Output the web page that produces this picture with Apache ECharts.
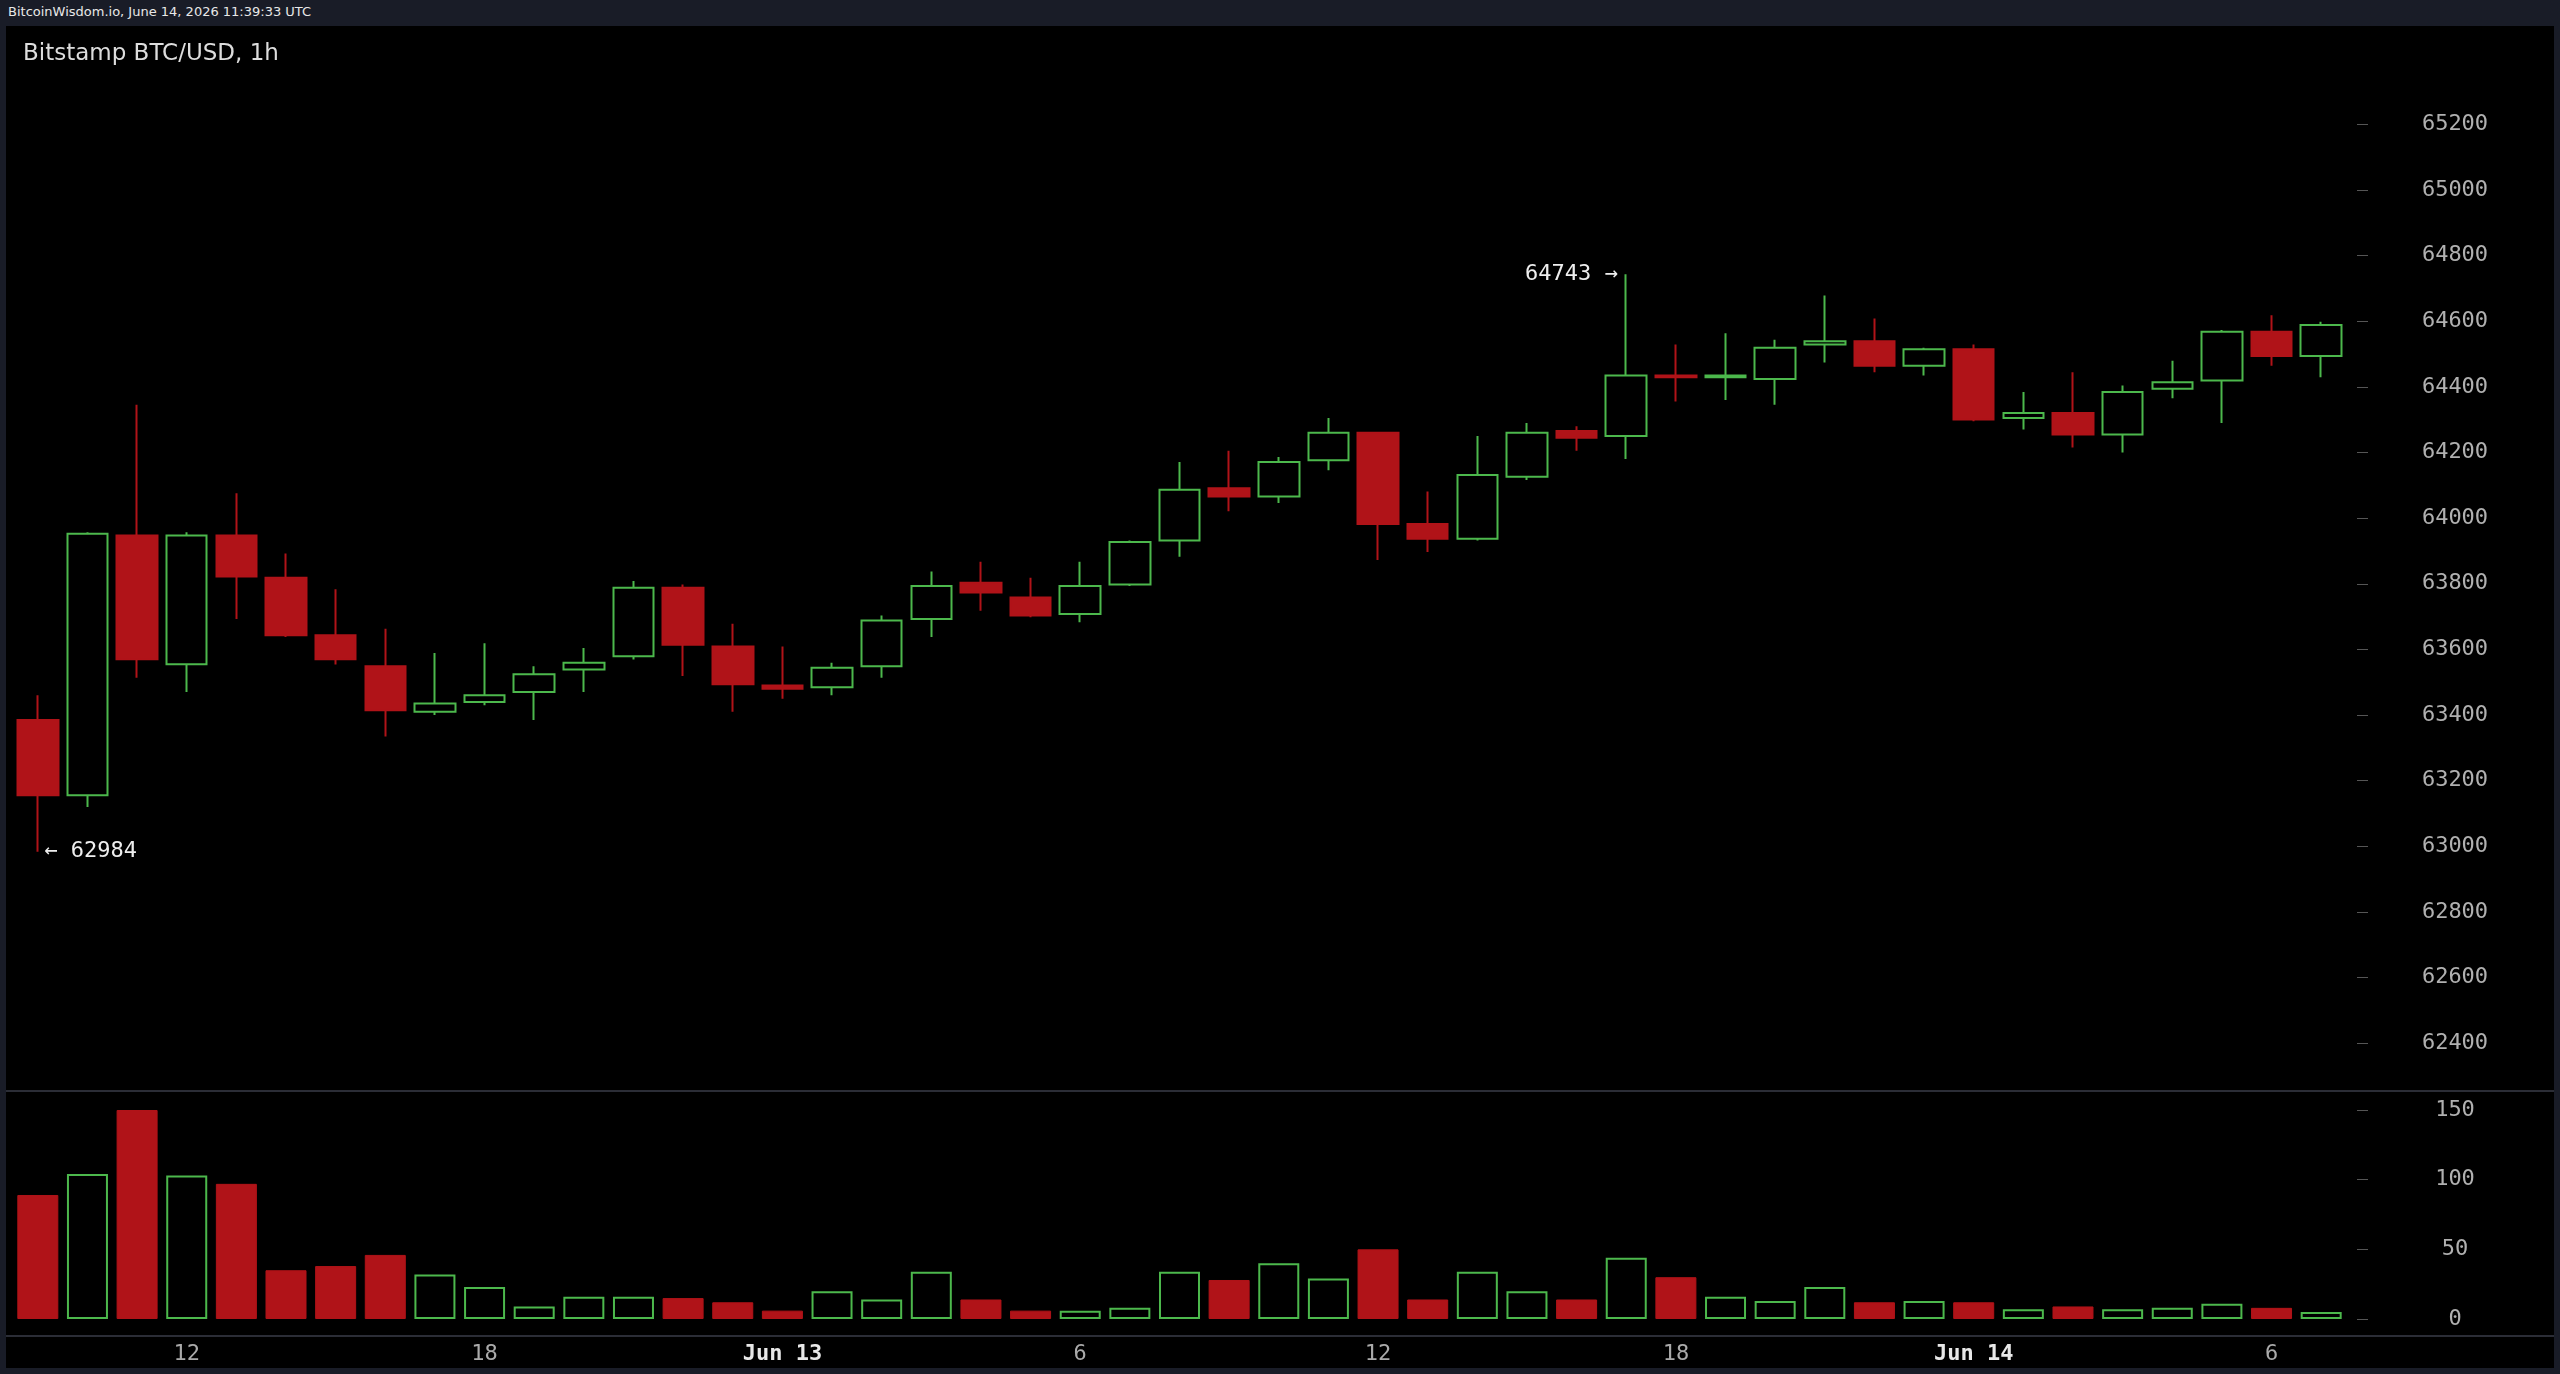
<!DOCTYPE html>
<html><head><meta charset="utf-8">
<script src="https://cdn.jsdelivr.net/npm/echarts@6/dist/echarts.min.js"></script>
<style>
html,body{margin:0;padding:0;width:2560px;height:1374px;background:#191c27;overflow:hidden;font-family:"DejaVu Sans Mono",monospace;}
#hdr{position:absolute;left:8px;top:4px;color:#e8e8e8;font:13px "DejaVu Sans",sans-serif;}
#c{position:absolute;left:6px;top:26px;width:2548px;height:1342px;background:#000;}
</style></head><body>
<div id="hdr">BitcoinWisdom.io, June 14, 2026 11:39:33 UTC</div>
<div id="c"></div>
<script>
const hours = [9,10,11,12,13,14,15,16,17,18,19,20,21,22,23,0,1,2,3,4,5,6,7,8,9,10,11,12,13,14,15,16,17,18,19,20,21,22,23,0,1,2,3,4,5,6,7];
const opens  = [63385,63156,63947,63555,63947,63818,63643,63549,63410,63440,63470,63539,63579,63788,63609,63490,63485,63549,63693,63803,63758,63708,63798,63932,64091,64066,64176,64260,63982,63937,64126,64265,64250,64434,64429,64424,64529,64539,64464,64514,64305,64320,64255,64394,64419,64568,64494];
const closes = [63156,63952,63570,63947,63822,63643,63570,63415,63435,63460,63524,63559,63788,63614,63494,63480,63544,63688,63793,63773,63703,63793,63927,64086,64066,64171,64260,63982,63937,64131,64260,64245,64434,64429,64434,64519,64539,64464,64514,64300,64320,64255,64384,64414,64568,64494,64588];
const highs  = [63460,63957,64345,63957,64076,63892,63783,63663,63589,63619,63549,63604,63808,63798,63678,63609,63559,63703,63837,63867,63818,63867,63932,64171,64205,64186,64305,64260,64081,64250,64290,64280,64743,64529,64563,64543,64678,64608,64519,64529,64384,64444,64404,64479,64573,64618,64598];
const lows   = [62984,63120,63514,63470,63693,63638,63554,63335,63400,63430,63385,63470,63569,63519,63410,63450,63460,63514,63638,63718,63698,63683,63793,63882,64021,64046,64146,63872,63897,63932,64116,64205,64180,64355,64360,64345,64474,64444,64434,64295,64270,64215,64200,64365,64290,64464,64429];
const volumes= [89,104,150,103,97,35,38,46,32,23,9,16,16,15,12,6,20,14,34,14,6,6,8,34,28,40,29,50,14,34,20,14,44,30,16,13,23,12,13,12,7,9,7,8,11,8,5];
const priceTicks = [62400,62600,62800,63000,63200,63400,63600,63800,64000,64200,64400,64600,64800,65000,65200];
const volTicks = [0,50,100,150];

const RED='#b01318', GREEN='#4cb84c';
const cats = hours.map((h,i)=>{
  if(h===0){ return i<20 ? 'Jun 13' : 'Jun 14'; }
  return String(h);
});
const candleData = opens.map((o,i)=>[o,closes[i],lows[i],highs[i]]);
const volData = volumes.map((v,i)=>({value:v,itemStyle: closes[i]>opens[i]
  ? {color:'#000',borderColor:GREEN,borderWidth:2}
  : {color:RED,borderColor:RED,borderWidth:1}}));

const chart = echarts.init(document.getElementById('c'));
const xLabel = {
  interval:(i)=>hours[i]%6===0,
  margin:24,
  formatter:(v)=> v.startsWith('Jun') ? '{b|'+v+'}' : '{n|'+v+'}',
  rich:{b:{color:'#e8e8e8',fontWeight:'bold',fontSize:22,fontFamily:'DejaVu Sans Mono'},
        n:{color:'#aaaaaa',fontSize:22,fontFamily:'DejaVu Sans Mono'}}
};
const yCommon = {
  position:'right', offset:11, splitLine:{show:false}, axisLine:{show:false},
  axisTick:{show:true,length:11,lineStyle:{color:'#555'}},
  axisLabel:{color:'#b0b0b0',fontSize:22,fontFamily:'DejaVu Sans Mono',margin:98,align:'center'}
};
chart.setOption({
  backgroundColor:'#000',
  animation:false,
  title:{text:'Bitstamp BTC/USD, 1h',left:12,top:12,textStyle:{color:'#dddddd',fontSize:23,fontWeight:'normal',fontFamily:'DejaVu Sans'}},
  grid:[{left:7,right:208,top:32.5,bottom:259},{left:7,right:208,top:1084,bottom:49}],
  xAxis:[
    {type:'category',data:cats,gridIndex:0,axisLine:{show:false},axisTick:{show:false},axisLabel:{show:false}},
    {type:'category',data:cats,gridIndex:1,axisLine:{show:false},axisTick:{show:false},axisLabel:xLabel}
  ],
  yAxis:[
    Object.assign({},yCommon,{gridIndex:0,min:62200,max:65400,interval:200,
      axisLabel:Object.assign({},yCommon.axisLabel,{formatter:(v)=> (v>=priceTicks[0]&&v<=priceTicks[priceTicks.length-1])?String(v):''}),
      axisTick:Object.assign({},yCommon.axisTick,{customValues:priceTicks})}),
    Object.assign({},yCommon,{gridIndex:1,min:volTicks[0],max:volTicks[volTicks.length-1],interval:50})
  ],
  graphic:[
    {type:'line',shape:{x1:0,y1:1065,x2:2548,y2:1065},style:{stroke:'#3a3d48',lineWidth:1.5},silent:true},
    {type:'line',shape:{x1:0,y1:1310,x2:2548,y2:1310},style:{stroke:'#3a3d48',lineWidth:1.5},silent:true}
  ],
  series:[
    {type:'candlestick',xAxisIndex:0,yAxisIndex:0,data:candleData,barWidth:41,
     itemStyle:{color:'#000',color0:RED,borderColor:GREEN,borderColor0:RED,borderWidth:2},
     markPoint:{symbol:'circle',symbolSize:1,itemStyle:{color:'rgba(0,0,0,0)'},
       data:[
        {coord:[32,highs[32]],value:highs[32],label:{show:true,position:'left',distance:8,formatter:'{c} →',color:'#eeeeee',fontSize:22,fontFamily:'DejaVu Sans Mono'}},
        {coord:[0,lows[0]],value:lows[0],label:{show:true,position:'right',distance:6,formatter:'← {c}',color:'#eeeeee',fontSize:22,fontFamily:'DejaVu Sans Mono'}}
       ]}},
    {type:'bar',xAxisIndex:1,yAxisIndex:1,data:volData,barWidth:41}
  ]
});
</script></body></html>
